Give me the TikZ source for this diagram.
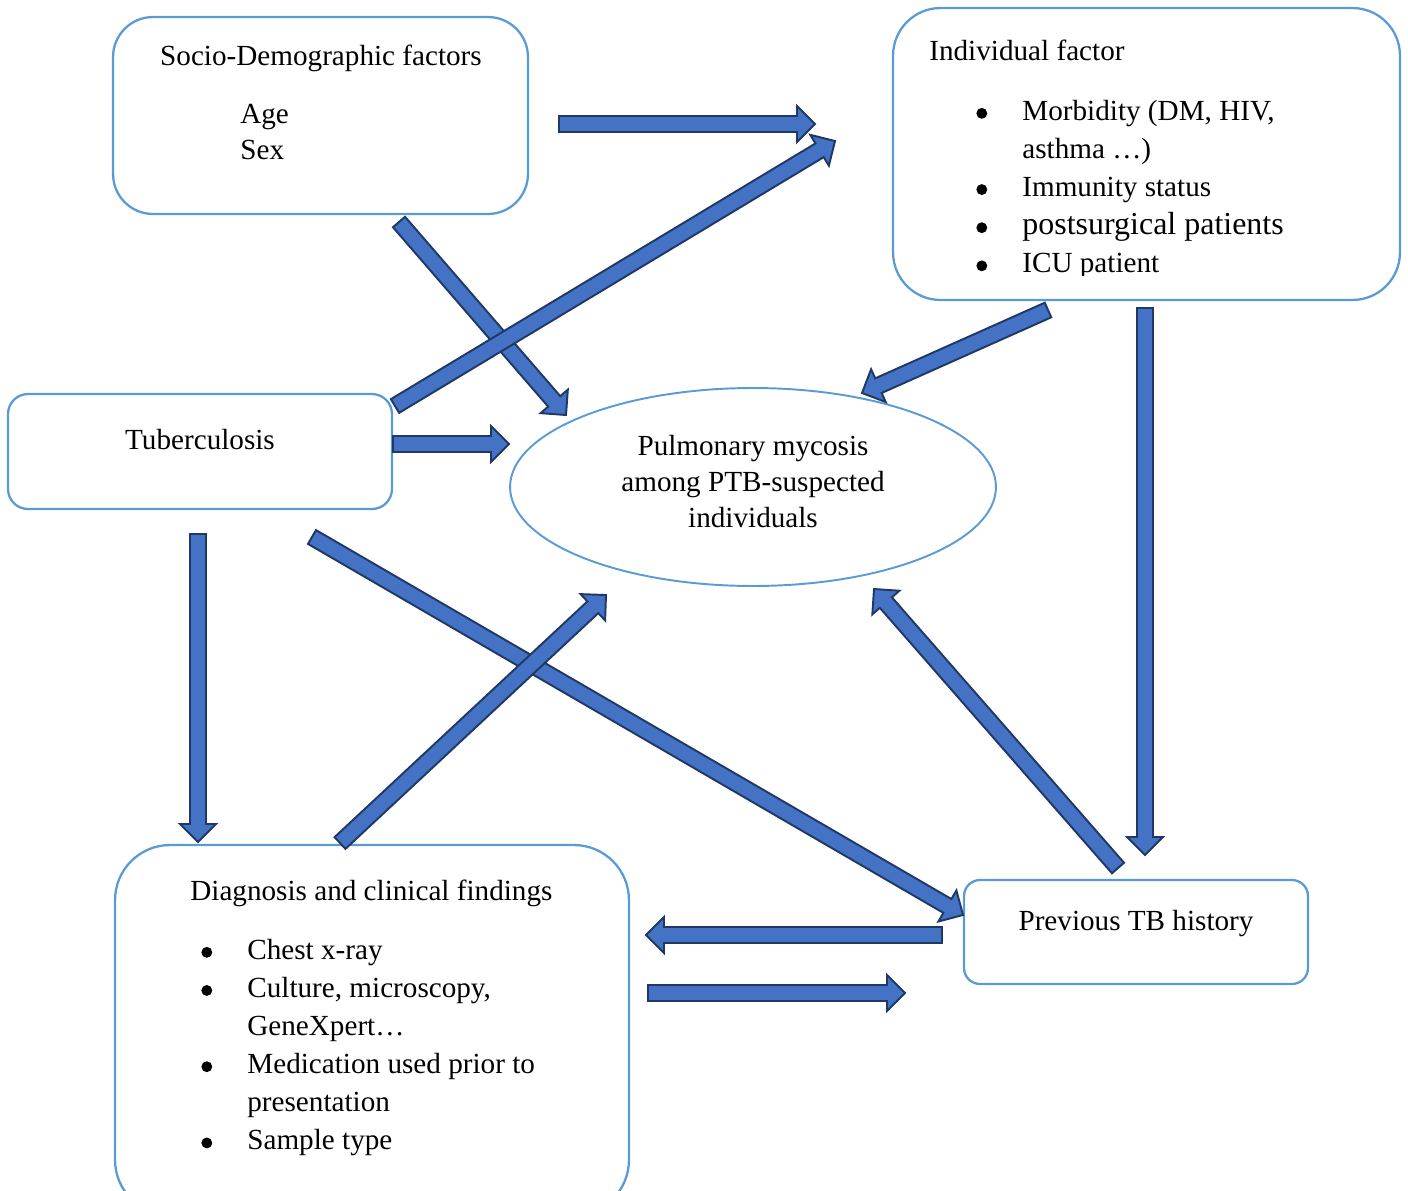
\documentclass[tikz,border=0pt]{standalone}
\usepackage{fontspec}
\setmainfont{Liberation Serif}
\usetikzlibrary{calc,shapes.geometric}

\definecolor{boxblue}{HTML}{5B9BD5}
\definecolor{arrfill}{HTML}{4472C4}
\definecolor{arrline}{HTML}{203864}

\newcommand{\shaftw}{0.16cm}
\newcommand{\headw}{0.36cm}
\newcommand{\headl}{0.36cm}
% round list bullet
\newcommand{\bul}{\tikz[baseline=0pt]\fill (3.1pt,3.8pt) circle (3.1pt);}
% block arrow from #1 to #2
\newcommand{\blockarrow}[2]{%
  \draw[barrow] let \p1=($(#2)-(#1)$), \n1={atan2(\y1,\x1)}, \n2={veclen(\x1,\y1)} in
    ($(#1)+(\n1+90:\shaftw)$) -- ($(#1)+(\n1:\n2-\headl)+(\n1+90:\shaftw)$)
    -- ($(#1)+(\n1:\n2-\headl)+(\n1+90:\headw)$) -- (#2)
    -- ($(#1)+(\n1:\n2-\headl)+(\n1-90:\headw)$)
    -- ($(#1)+(\n1:\n2-\headl)+(\n1-90:\shaftw)$)
    -- ($(#1)+(\n1-90:\shaftw)$) -- cycle;}

\tikzset{
  box/.style={draw=boxblue, line width=1.3pt, rounded corners=#1, inner sep=0pt},
  box/.default=0.5cm,
  barrow/.style={fill=arrfill, draw=arrline, line width=1.1pt, line join=miter},
  txt/.style={inner sep=0pt, font=\fontsize{16.6pt}{21.7pt}\selectfont}
}

\begin{document}
\begin{tikzpicture}[x=0.02cm, y=-0.02cm]
  \useasboundingbox (0,0) rectangle (1408,1190);

  % boxes
  \node[box=0.8cm, minimum width=8.3cm, minimum height=3.94cm] (socio) at (320.5,115.5) {};
  \node[box=0.95cm, minimum width=10.14cm, minimum height=5.84cm] (indiv) at (1146.5,154) {};
  \node[box=0.4cm, minimum width=7.68cm, minimum height=2.3cm] (tb) at (200,451.5) {};
  \node[ellipse, draw=boxblue, line width=1.1pt, minimum width=9.72cm, minimum height=3.96cm] (mycosis) at (753,487) {};
  \node[box=1.1cm, minimum width=10.28cm, minimum height=7.4cm] (diag) at (372,1030) {};
  \node[box=0.32cm, minimum width=6.88cm, minimum height=2.08cm] (prevtb) at (1136,932) {};

  % texts
  \node[txt, anchor=base] (socio-title) at (321,65) {Socio-Demographic factors};
  \node[txt, anchor=base west] (socio-list) at (240,123)
    {\fontsize{16.6pt}{20.5pt}\selectfont\begin{tabular}[t]{@{}l@{}}Age\\Sex\end{tabular}};
  \node[txt, anchor=base west] (indiv-title) at (929,60) {Individual factor};
  \begin{scope}
    \clip (900,20) rectangle (1390,275);
    \node[txt, anchor=base west] (indiv-list) at (976,120)
      {\begin{tabular}[t]{@{}l@{\hspace{20pt}}l@{}}
        \bul & Morbidity (DM, HIV,\\
             & asthma …)\\
        \bul & Immunity status\\
        \bul & {\fontsize{18.2pt}{21.7pt}\selectfont postsurgical patients}\\
        \bul & ICU patient
      \end{tabular}};
  \end{scope}
  \node[txt, anchor=base] (tb-title) at (200,449) {Tuberculosis};
  \node[txt, anchor=base] (mycosis-title) at (753,455)
    {\fontsize{16.6pt}{20.5pt}\selectfont\begin{tabular}[t]{@{}c@{}}Pulmonary mycosis\\among PTB-suspected\\individuals\end{tabular}};
  \node[txt, anchor=base west] (diag-title) at (190,900) {Diagnosis and clinical findings};
  \node[txt, anchor=base west] (diag-list) at (201,959)
    {\begin{tabular}[t]{@{}l@{\hspace{20pt}}l@{}}
      \bul & Chest x-ray\\
      \bul & Culture, microscopy,\\
           & GeneXpert…\\
      \bul & Medication used prior to\\
           & presentation\\
      \bul & Sample type
    \end{tabular}};
  \node[txt, anchor=base] (prevtb-title) at (1136,930) {Previous TB history};

  % arrow ends
  \coordinate (socio-indiv-a) at (559,124);   \coordinate (socio-indiv-b) at (815,124);
  \coordinate (tb-indiv-a) at (395,406);      \coordinate (tb-indiv-b) at (835,141);
  \coordinate (socio-myc-a) at (399,222);     \coordinate (socio-myc-b) at (566,415);
  \coordinate (tb-myc-a) at (393,444);        \coordinate (tb-myc-b) at (509,444);
  \coordinate (indiv-myc-a) at (1048,310);    \coordinate (indiv-myc-b) at (862,393);
  \coordinate (indiv-prev-a) at (1145,308);   \coordinate (indiv-prev-b) at (1145,855);
  \coordinate (tb-diag-a) at (198,534);       \coordinate (tb-diag-b) at (198,842);
  \coordinate (tb-prev-a) at (312,537);       \coordinate (tb-prev-b) at (963,915);
  \coordinate (diag-myc-a) at (340,843);      \coordinate (diag-myc-b) at (606,595);
  \coordinate (prev-myc-a) at (1118,868);     \coordinate (prev-myc-b) at (874,589);
  \coordinate (prev-diag-a) at (942,935);     \coordinate (prev-diag-b) at (646,935);
  \coordinate (diag-prev-a) at (648,993);     \coordinate (diag-prev-b) at (905,993);

  % arrows
  \blockarrow{socio-indiv-a}{socio-indiv-b}
  \blockarrow{socio-myc-a}{socio-myc-b}
  \blockarrow{tb-indiv-a}{tb-indiv-b}
  \blockarrow{tb-myc-a}{tb-myc-b}
  \blockarrow{indiv-myc-a}{indiv-myc-b}
  \blockarrow{indiv-prev-a}{indiv-prev-b}
  \blockarrow{tb-diag-a}{tb-diag-b}
  \blockarrow{tb-prev-a}{tb-prev-b}
  \blockarrow{diag-myc-a}{diag-myc-b}
  \blockarrow{prev-myc-a}{prev-myc-b}
  \blockarrow{prev-diag-a}{prev-diag-b}
  \blockarrow{diag-prev-a}{diag-prev-b}
\end{tikzpicture}
\end{document}
